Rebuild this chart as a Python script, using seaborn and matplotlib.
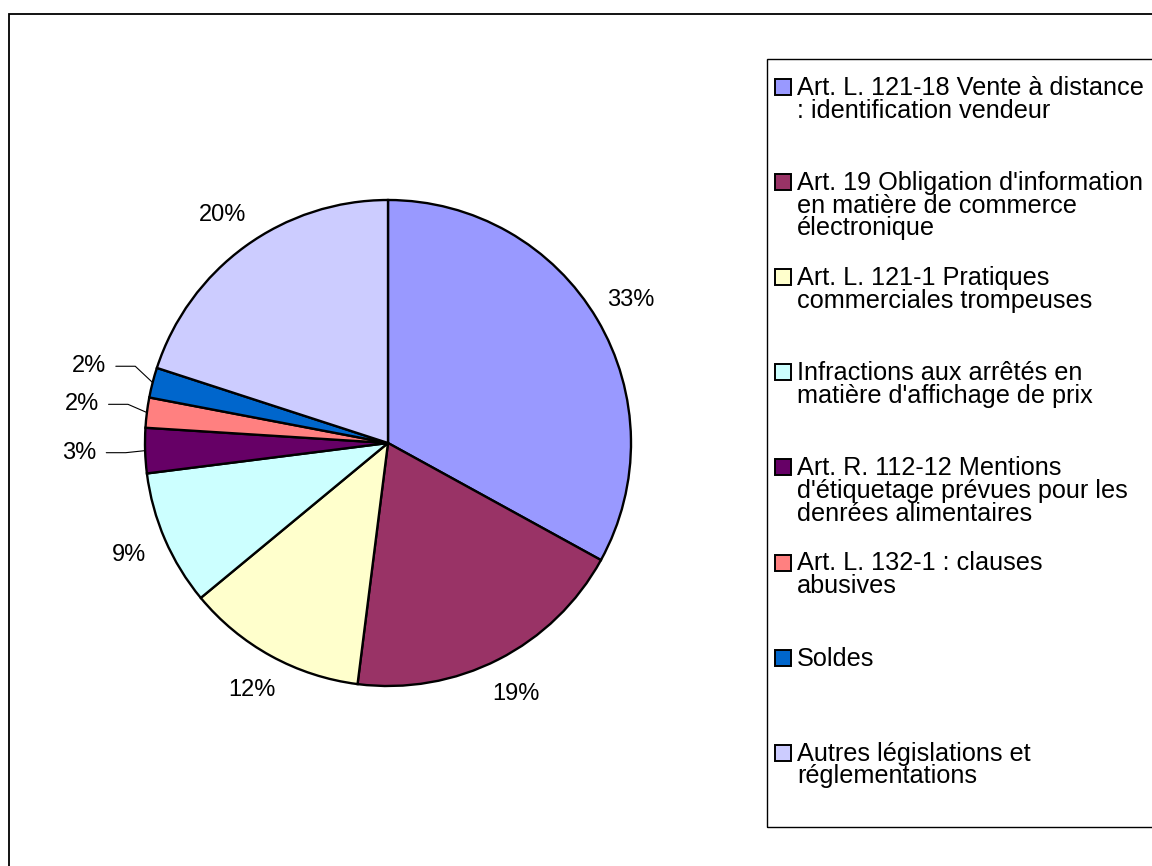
import numpy as np
import seaborn as sns
import matplotlib.pyplot as plt
from matplotlib.patches import Rectangle

# data
labels = [
    "Art. L. 121-18 Vente à distance\n: identification vendeur",
    "Art. 19 Obligation d'information\nen matière de commerce\nélectronique",
    "Art. L. 121-1 Pratiques\ncommerciales trompeuses",
    "Infractions aux arrêtés en\nmatière d'affichage de prix",
    "Art. R. 112-12 Mentions\nd'étiquetage prévues pour les\ndenrées alimentaires",
    "Art. L. 132-1 : clauses\nabusives",
    "Soldes",
    "Autres législations et\nréglementations",
]
values = [33, 19, 12, 9, 3, 2, 2, 20]
colors = ["#9999FF", "#993366", "#FFFFCC", "#CCFFFF",
          "#660066", "#FF8080", "#0066CC", "#CCCCFF"]

sns.set_theme(style="white")
plt.rcParams['font.family'] = ['Liberation Sans', 'DejaVu Sans']
plt.rcParams['text.color'] = 'black'

W, H = 1152, 866
fig = plt.figure(figsize=(W / 100, H / 100), dpi=100)

# outer chart frame
fig.add_artist(Rectangle((9 / W, -0.01), 1.05, 1 - 14 / H + 0.01,
                         transform=fig.transFigure, fill=False,
                         edgecolor="black", linewidth=1.3))

# pie axes: center (388, 443) px, radius 243 px
cx, cy, R, half = 388, 443, 243, 380
ax = fig.add_axes([(cx - half) / W, (H - cy - half) / H, 2 * half / W, 2 * half / H])

wedges, _ = ax.pie(values, colors=colors, startangle=90, counterclock=False,
                   radius=1.0,
                   wedgeprops=dict(edgecolor="black", linewidth=1.7))
ax.set_xlim(-half / R, half / R)
ax.set_ylim(-half / R, half / R)
ax.set_aspect("equal", adjustable="box")
ax.axis("off")

total = sum(values)
for w, v in zip(wedges, values):
    mid = np.deg2rad((w.theta1 + w.theta2) / 2)
    small = v / total < 0.05
    d = 1.27 if small else 1.16
    x, y = d * np.cos(mid), d * np.sin(mid)
    ax.text(x, y, f"{v / total:.0%}", ha="center", va="center", fontsize=17)
    if small:
        x0 = x + 0.11
        ax.plot([x0, x0 + 0.08, np.cos(mid)], [y, y, np.sin(mid)],
                color="black", linewidth=0.8)

# legend box, Excel style fixed slots
fig.add_artist(Rectangle((767 / W, 1 - 827 / H), 0.5, (827 - 59) / H,
                         transform=fig.transFigure, fill=False,
                         edgecolor="black", linewidth=1.0))
slot = 95.1
for i, (lab, col) in enumerate(zip(labels, colors)):
    yc = 87 + i * slot
    fig.add_artist(Rectangle((775 / W, 1 - (yc + 8) / H), 16 / W, 16 / H,
                             transform=fig.transFigure, facecolor=col,
                             edgecolor="black", linewidth=1.4))
    fig.text(797 / W, 1 - (yc - 11) / H, lab, ha="left", va="top",
             fontsize=18.2, linespacing=0.93)

fig.savefig("out.png", dpi=100, facecolor="white")
